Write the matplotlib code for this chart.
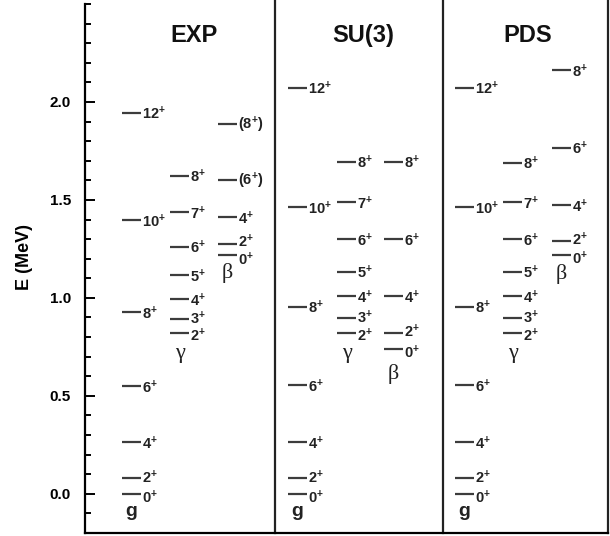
import matplotlib
matplotlib.use("Agg")
import matplotlib.pyplot as plt
from matplotlib.ticker import MultipleLocator, FixedLocator, FormatStrFormatter

plt.rcParams['font.family'] = ['Liberation Sans', 'DejaVu Sans']
plt.rcParams['mathtext.default'] = 'regular'

panels = ['EXP', 'SU(3)', 'PDS']

# ground band (MeV)
g_spins = [0, 2, 4, 6, 8, 10, 12]
g_exp = [0.0, 0.080, 0.264, 0.548, 0.927, 1.398, 1.945]
g_su3 = [0.0, 0.079, 0.265, 0.556, 0.956, 1.463, 2.073]
g_pds = [0.0, 0.079, 0.265, 0.556, 0.956, 1.463, 2.073]

# gamma band
gam_spins = [2, 3, 4, 5, 6, 7, 8]
gam_exp = [0.823, 0.891, 0.993, 1.117, 1.262, 1.437, 1.624]
gam_su3 = [0.823, 0.896, 1.010, 1.134, 1.299, 1.490, 1.695]
gam_pds = [0.823, 0.896, 1.010, 1.134, 1.299, 1.490, 1.690]

# beta band
beta_spins = [0, 2, 4, 6, 8]
beta_exp = [1.219, 1.274, 1.411, 1.602, 1.888]
beta_su3 = [0.738, 0.823, 1.010, 1.299, 1.695]
beta_pds = [1.219, 1.292, 1.474, 1.767, 2.163]
beta_exp_tentative = [False, False, False, True, True]

y_ticks = [0.0, 0.5, 1.0, 1.5, 2.0]

# layout (x in pixel-like units of the axes)
band_x = {'EXP': [122, 170, 218], 'SU(3)': [288, 337, 384], 'PDS': [455, 503, 552]}
title_x = {'EXP': 194, 'SU(3)': 363, 'PDS': 528}
beta_drop = {'EXP': -13, 'SU(3)': -18, 'PDS': -14}
line_len = 19
separators = [275, 443, 608]
lvl_color = '#3c3c3c'

data = {
    'EXP': [(g_spins, g_exp), (gam_spins, gam_exp), (beta_spins, beta_exp)],
    'SU(3)': [(g_spins, g_su3), (gam_spins, gam_su3), (beta_spins, beta_su3)],
    'PDS': [(g_spins, g_pds), (gam_spins, gam_pds), (beta_spins, beta_pds)],
}


def push(gap):
    # how far (pt) to nudge a label away from a close neighbour
    if gap < 0.06:
        return 2.5
    if gap < 0.09:
        return 1.5
    return 0


fig = plt.figure(figsize=(6.1, 5.36), dpi=100)
ax = fig.add_axes([85 / 610, 3 / 536, 523 / 610, 529 / 536])
ax.set_xlim(85, 608)
ax.set_ylim(-0.2, 2.5)

for p in panels:
    for b, (spins, ens) in enumerate(data[p]):
        x0 = band_x[p][b]
        x1 = x0 + line_len
        ax.hlines(ens, x0, x1, color=lvl_color, lw=1.6)
        for k, (j, e) in enumerate(zip(spins, ens)):
            lab = '%d$^{+}$' % j
            if p == 'EXP' and b == 2 and beta_exp_tentative[k]:
                lab = '(%d$^{+}$)' % j
            dy = -1
            if k + 1 < len(ens):
                dy -= push(ens[k + 1] - e)
            if k > 0:
                dy += push(e - ens[k - 1])
            ax.annotate(lab, (x1, e), xytext=(1, dy), textcoords='offset points',
                        ha='left', va='center', fontsize=10.5, fontweight='bold',
                        color='#222222')
        # band labels
        cx = x0 + line_len / 2
        low = min(ens)
        if b == 0:
            ax.annotate('g', (cx, low), xytext=(0, -13), textcoords='offset points',
                        ha='center', va='center', fontsize=14, fontweight='bold',
                        color='#222222')
        elif b == 1:
            ax.annotate('γ', (cx, low), xytext=(0, -15), textcoords='offset points',
                        ha='center', va='center', fontsize=16, family='Liberation Serif',
                        color='#222222')
        else:
            ax.annotate('β', (cx, low), xytext=(0, beta_drop[p]), textcoords='offset points',
                        ha='center', va='center', fontsize=16, family='Liberation Serif',
                        color='#222222')
    ax.text(title_x[p], 2.34, p, ha='center', va='center', fontsize=17,
            fontweight='bold', color='#111111')

for sx in separators:
    ax.axvline(sx, ymin=0, ymax=1.01, color='#222222', lw=1.6, clip_on=False)

ax.spines['top'].set_visible(False)
ax.spines['right'].set_visible(False)
ax.spines['left'].set_linewidth(1.6)
ax.spines['bottom'].set_linewidth(1.6)
ax.set_xticks([])
ax.yaxis.set_major_locator(FixedLocator(y_ticks))
ax.yaxis.set_minor_locator(MultipleLocator(0.1))
ax.yaxis.set_major_formatter(FormatStrFormatter('%.1f'))
ax.tick_params(axis='y', which='major', direction='in', length=7, width=1.4,
               pad=10, labelsize=11)
ax.tick_params(axis='y', which='minor', direction='in', length=4, width=1.4)
for t in ax.get_yticklabels():
    t.set_fontweight('bold')
ax.set_ylabel('E (MeV)', fontsize=13, fontweight='bold')
ax.yaxis.set_label_coords(-0.100, 0.522)

fig.savefig('out.png', dpi=100)
